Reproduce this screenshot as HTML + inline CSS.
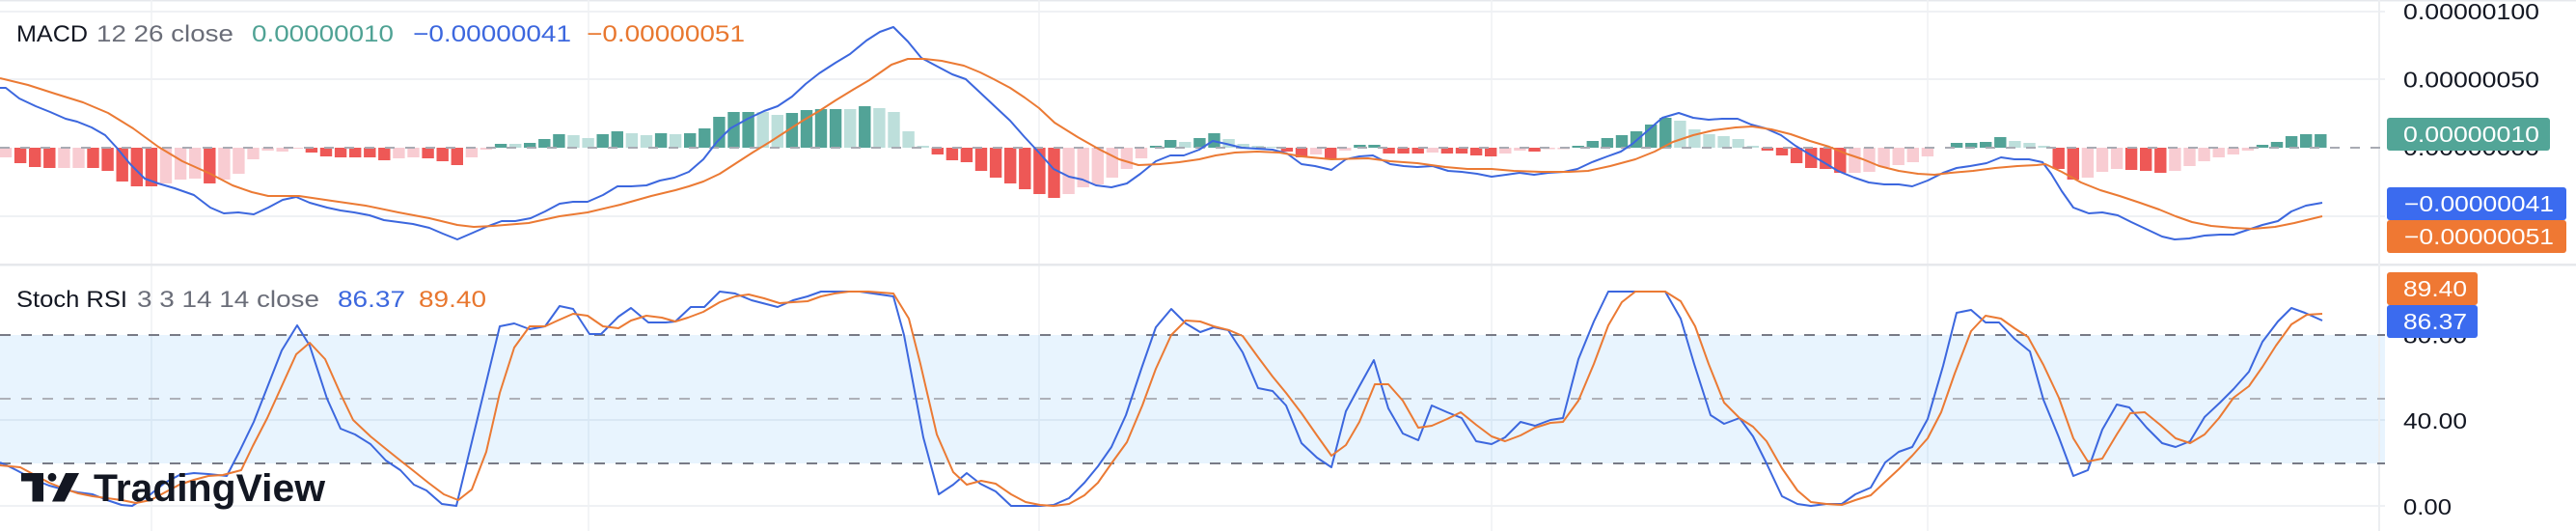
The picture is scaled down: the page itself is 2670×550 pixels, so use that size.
<!DOCTYPE html>
<html><head><meta charset="utf-8"><style>
html,body{margin:0;padding:0;background:#fff;}
svg{display:block;}
text{font-family:"Liberation Sans",Arial,sans-serif;}
</style></head><body>
<svg width="2670" height="550" viewBox="0 0 2670 550" xmlns="http://www.w3.org/2000/svg">
<rect x="0" y="0" width="2670" height="550" fill="#ffffff"/>
<rect x="0" y="0" width="2670" height="1.5" fill="#e6e8ec"/>
<g stroke="#eff1f4" stroke-width="1.5">
<line x1="157" y1="0" x2="157" y2="550"/>
<line x1="610" y1="0" x2="610" y2="550"/>
<line x1="1077" y1="0" x2="1077" y2="550"/>
<line x1="1546" y1="0" x2="1546" y2="550"/>
<line x1="1998" y1="0" x2="1998" y2="550"/>
</g>
<g stroke="#eff1f4" stroke-width="2">
<line x1="0" y1="12" x2="2472" y2="12"/>
<line x1="0" y1="82" x2="2472" y2="82"/>
<line x1="0" y1="224" x2="2472" y2="224"/>
<line x1="0" y1="435" x2="2472" y2="435"/>
<line x1="0" y1="524" x2="2472" y2="524"/>
</g>
<rect x="0" y="347" width="2472" height="133" fill="rgba(33,150,243,0.1)"/>
<rect x="0" y="273" width="2670" height="2.5" fill="#e6e8ec"/>
<rect x="2465" y="0" width="2" height="550" fill="#eceef1"/>

<g>
<rect x="-0.2" y="153" width="12.4" height="10" fill="#f8ccd2"/>
<rect x="14.9" y="153" width="12.4" height="16" fill="#ee5856"/>
<rect x="30.0" y="153" width="12.4" height="20" fill="#ee5856"/>
<rect x="45.1" y="153" width="12.4" height="21" fill="#ee5856"/>
<rect x="60.2" y="153" width="12.4" height="21" fill="#f8ccd2"/>
<rect x="75.3" y="153" width="12.4" height="21" fill="#f8ccd2"/>
<rect x="90.3" y="153" width="12.4" height="21" fill="#ee5856"/>
<rect x="105.4" y="153" width="12.4" height="24" fill="#ee5856"/>
<rect x="120.5" y="153" width="12.4" height="35" fill="#ee5856"/>
<rect x="135.6" y="153" width="12.4" height="40" fill="#ee5856"/>
<rect x="150.7" y="153" width="12.4" height="40" fill="#ee5856"/>
<rect x="165.8" y="153" width="12.4" height="37" fill="#f8ccd2"/>
<rect x="180.9" y="153" width="12.4" height="33" fill="#f8ccd2"/>
<rect x="196.0" y="153" width="12.4" height="32" fill="#f8ccd2"/>
<rect x="211.1" y="153" width="12.4" height="37" fill="#ee5856"/>
<rect x="226.2" y="153" width="12.4" height="33" fill="#f8ccd2"/>
<rect x="241.2" y="153" width="12.4" height="27" fill="#f8ccd2"/>
<rect x="256.3" y="153" width="12.4" height="12" fill="#f8ccd2"/>
<rect x="271.4" y="153" width="12.4" height="3" fill="#f8ccd2"/>
<rect x="286.5" y="153" width="12.4" height="4" fill="#f8ccd2"/>
<rect x="301.6" y="153" width="12.4" height="1" fill="#f8ccd2"/>
<rect x="316.7" y="153" width="12.4" height="5" fill="#ee5856"/>
<rect x="331.8" y="153" width="12.4" height="9" fill="#ee5856"/>
<rect x="346.9" y="153" width="12.4" height="10" fill="#ee5856"/>
<rect x="362.0" y="153" width="12.4" height="10" fill="#ee5856"/>
<rect x="377.1" y="153" width="12.4" height="10" fill="#ee5856"/>
<rect x="392.1" y="153" width="12.4" height="13" fill="#ee5856"/>
<rect x="407.2" y="153" width="12.4" height="11" fill="#f8ccd2"/>
<rect x="422.3" y="153" width="12.4" height="10" fill="#f8ccd2"/>
<rect x="437.4" y="153" width="12.4" height="11" fill="#ee5856"/>
<rect x="452.5" y="153" width="12.4" height="14" fill="#ee5856"/>
<rect x="467.6" y="153" width="12.4" height="18" fill="#ee5856"/>
<rect x="482.7" y="153" width="12.4" height="10" fill="#f8ccd2"/>
<rect x="497.8" y="153" width="12.4" height="2" fill="#f8ccd2"/>
<rect x="512.9" y="149" width="12.4" height="4" fill="#52a397"/>
<rect x="528.0" y="149" width="12.4" height="4" fill="#bddfdb"/>
<rect x="543.0" y="148" width="12.4" height="5" fill="#52a397"/>
<rect x="558.1" y="144" width="12.4" height="9" fill="#52a397"/>
<rect x="573.2" y="139" width="12.4" height="14" fill="#52a397"/>
<rect x="588.3" y="140" width="12.4" height="13" fill="#bddfdb"/>
<rect x="603.4" y="143" width="12.4" height="10" fill="#bddfdb"/>
<rect x="618.5" y="139" width="12.4" height="14" fill="#52a397"/>
<rect x="633.6" y="136" width="12.4" height="17" fill="#52a397"/>
<rect x="648.7" y="138" width="12.4" height="15" fill="#bddfdb"/>
<rect x="663.8" y="140" width="12.4" height="13" fill="#bddfdb"/>
<rect x="678.9" y="138" width="12.4" height="15" fill="#52a397"/>
<rect x="693.9" y="139" width="12.4" height="14" fill="#bddfdb"/>
<rect x="709.0" y="138" width="12.4" height="15" fill="#52a397"/>
<rect x="724.1" y="133" width="12.4" height="20" fill="#52a397"/>
<rect x="739.2" y="121" width="12.4" height="32" fill="#52a397"/>
<rect x="754.3" y="116" width="12.4" height="37" fill="#52a397"/>
<rect x="769.4" y="116" width="12.4" height="37" fill="#52a397"/>
<rect x="784.5" y="116" width="12.4" height="37" fill="#bddfdb"/>
<rect x="799.6" y="119" width="12.4" height="34" fill="#bddfdb"/>
<rect x="814.7" y="117" width="12.4" height="36" fill="#52a397"/>
<rect x="829.8" y="114" width="12.4" height="39" fill="#52a397"/>
<rect x="844.8" y="113" width="12.4" height="40" fill="#52a397"/>
<rect x="859.9" y="113" width="12.4" height="40" fill="#52a397"/>
<rect x="875.0" y="113" width="12.4" height="40" fill="#bddfdb"/>
<rect x="890.1" y="110" width="12.4" height="43" fill="#52a397"/>
<rect x="905.2" y="112" width="12.4" height="41" fill="#bddfdb"/>
<rect x="920.3" y="116" width="12.4" height="37" fill="#bddfdb"/>
<rect x="935.4" y="136" width="12.4" height="17" fill="#bddfdb"/>
<rect x="950.5" y="151" width="12.4" height="2" fill="#bddfdb"/>
<rect x="965.6" y="153" width="12.4" height="7" fill="#ee5856"/>
<rect x="980.7" y="153" width="12.4" height="13" fill="#ee5856"/>
<rect x="995.7" y="153" width="12.4" height="15" fill="#ee5856"/>
<rect x="1010.8" y="153" width="12.4" height="24" fill="#ee5856"/>
<rect x="1025.9" y="153" width="12.4" height="31" fill="#ee5856"/>
<rect x="1041.0" y="153" width="12.4" height="37" fill="#ee5856"/>
<rect x="1056.1" y="153" width="12.4" height="43" fill="#ee5856"/>
<rect x="1071.2" y="153" width="12.4" height="48" fill="#ee5856"/>
<rect x="1086.3" y="153" width="12.4" height="52" fill="#ee5856"/>
<rect x="1101.4" y="153" width="12.4" height="48" fill="#f8ccd2"/>
<rect x="1116.5" y="153" width="12.4" height="41" fill="#f8ccd2"/>
<rect x="1131.6" y="153" width="12.4" height="38" fill="#f8ccd2"/>
<rect x="1146.6" y="153" width="12.4" height="31" fill="#f8ccd2"/>
<rect x="1161.7" y="153" width="12.4" height="22" fill="#f8ccd2"/>
<rect x="1176.8" y="153" width="12.4" height="11" fill="#f8ccd2"/>
<rect x="1191.9" y="151" width="12.4" height="2" fill="#52a397"/>
<rect x="1207.0" y="145" width="12.4" height="8" fill="#52a397"/>
<rect x="1222.1" y="147" width="12.4" height="6" fill="#bddfdb"/>
<rect x="1237.2" y="143" width="12.4" height="10" fill="#52a397"/>
<rect x="1252.3" y="138" width="12.4" height="15" fill="#52a397"/>
<rect x="1267.4" y="144" width="12.4" height="9" fill="#bddfdb"/>
<rect x="1282.5" y="149" width="12.4" height="4" fill="#bddfdb"/>
<rect x="1297.5" y="151" width="12.4" height="2" fill="#bddfdb"/>
<rect x="1312.6" y="152" width="12.4" height="1" fill="#bddfdb"/>
<rect x="1327.7" y="153" width="12.4" height="4" fill="#ee5856"/>
<rect x="1342.8" y="153" width="12.4" height="10" fill="#ee5856"/>
<rect x="1357.9" y="153" width="12.4" height="7" fill="#f8ccd2"/>
<rect x="1373.0" y="153" width="12.4" height="12" fill="#ee5856"/>
<rect x="1388.1" y="153" width="12.4" height="3" fill="#f8ccd2"/>
<rect x="1403.2" y="150" width="12.4" height="3" fill="#52a397"/>
<rect x="1418.3" y="150" width="12.4" height="3" fill="#52a397"/>
<rect x="1433.4" y="153" width="12.4" height="6" fill="#ee5856"/>
<rect x="1448.4" y="153" width="12.4" height="6" fill="#ee5856"/>
<rect x="1463.5" y="153" width="12.4" height="6" fill="#ee5856"/>
<rect x="1478.6" y="153" width="12.4" height="5" fill="#f8ccd2"/>
<rect x="1493.7" y="153" width="12.4" height="6" fill="#ee5856"/>
<rect x="1508.8" y="153" width="12.4" height="6" fill="#ee5856"/>
<rect x="1523.9" y="153" width="12.4" height="8" fill="#ee5856"/>
<rect x="1539.0" y="153" width="12.4" height="9" fill="#ee5856"/>
<rect x="1554.1" y="153" width="12.4" height="6" fill="#f8ccd2"/>
<rect x="1569.2" y="153" width="12.4" height="3" fill="#f8ccd2"/>
<rect x="1584.3" y="153" width="12.4" height="4" fill="#ee5856"/>
<rect x="1599.3" y="153" width="12.4" height="1.5" fill="#f8ccd2"/>
<rect x="1614.4" y="153" width="12.4" height="1.5" fill="#f8ccd2"/>
<rect x="1629.5" y="151" width="12.4" height="2" fill="#52a397"/>
<rect x="1644.6" y="146" width="12.4" height="7" fill="#52a397"/>
<rect x="1659.7" y="143" width="12.4" height="10" fill="#52a397"/>
<rect x="1674.8" y="140" width="12.4" height="13" fill="#52a397"/>
<rect x="1689.9" y="136" width="12.4" height="17" fill="#52a397"/>
<rect x="1705.0" y="129" width="12.4" height="24" fill="#52a397"/>
<rect x="1720.1" y="122" width="12.4" height="31" fill="#52a397"/>
<rect x="1735.2" y="125" width="12.4" height="28" fill="#bddfdb"/>
<rect x="1750.2" y="134" width="12.4" height="19" fill="#bddfdb"/>
<rect x="1765.3" y="139" width="12.4" height="14" fill="#bddfdb"/>
<rect x="1780.4" y="141" width="12.4" height="12" fill="#bddfdb"/>
<rect x="1795.5" y="144" width="12.4" height="9" fill="#bddfdb"/>
<rect x="1810.6" y="151" width="12.4" height="2" fill="#bddfdb"/>
<rect x="1825.7" y="153" width="12.4" height="3" fill="#ee5856"/>
<rect x="1840.8" y="153" width="12.4" height="8" fill="#ee5856"/>
<rect x="1855.9" y="153" width="12.4" height="16" fill="#ee5856"/>
<rect x="1871.0" y="153" width="12.4" height="21" fill="#ee5856"/>
<rect x="1886.1" y="153" width="12.4" height="22" fill="#ee5856"/>
<rect x="1901.1" y="153" width="12.4" height="26" fill="#ee5856"/>
<rect x="1916.2" y="153" width="12.4" height="26" fill="#f8ccd2"/>
<rect x="1931.3" y="153" width="12.4" height="25" fill="#f8ccd2"/>
<rect x="1946.4" y="153" width="12.4" height="20" fill="#f8ccd2"/>
<rect x="1961.5" y="153" width="12.4" height="18" fill="#f8ccd2"/>
<rect x="1976.6" y="153" width="12.4" height="15" fill="#f8ccd2"/>
<rect x="1991.7" y="153" width="12.4" height="9" fill="#f8ccd2"/>
<rect x="2021.9" y="148" width="12.4" height="5" fill="#52a397"/>
<rect x="2037.0" y="148" width="12.4" height="5" fill="#52a397"/>
<rect x="2052.0" y="147" width="12.4" height="6" fill="#52a397"/>
<rect x="2067.1" y="142" width="12.4" height="11" fill="#52a397"/>
<rect x="2082.2" y="146" width="12.4" height="7" fill="#bddfdb"/>
<rect x="2097.3" y="148" width="12.4" height="5" fill="#bddfdb"/>
<rect x="2112.4" y="151" width="12.4" height="2" fill="#bddfdb"/>
<rect x="2127.5" y="153" width="12.4" height="22" fill="#ee5856"/>
<rect x="2142.6" y="153" width="12.4" height="33" fill="#ee5856"/>
<rect x="2157.7" y="153" width="12.4" height="31" fill="#f8ccd2"/>
<rect x="2172.8" y="153" width="12.4" height="25" fill="#f8ccd2"/>
<rect x="2187.9" y="153" width="12.4" height="22" fill="#f8ccd2"/>
<rect x="2202.9" y="153" width="12.4" height="23" fill="#ee5856"/>
<rect x="2218.0" y="153" width="12.4" height="24" fill="#ee5856"/>
<rect x="2233.1" y="153" width="12.4" height="26" fill="#ee5856"/>
<rect x="2248.2" y="153" width="12.4" height="24" fill="#f8ccd2"/>
<rect x="2263.3" y="153" width="12.4" height="19" fill="#f8ccd2"/>
<rect x="2278.4" y="153" width="12.4" height="14" fill="#f8ccd2"/>
<rect x="2293.5" y="153" width="12.4" height="10" fill="#f8ccd2"/>
<rect x="2308.6" y="153" width="12.4" height="7" fill="#f8ccd2"/>
<rect x="2323.7" y="153" width="12.4" height="3" fill="#f8ccd2"/>
<rect x="2338.8" y="150" width="12.4" height="3" fill="#52a397"/>
<rect x="2353.8" y="147" width="12.4" height="6" fill="#52a397"/>
<rect x="2368.9" y="141" width="12.4" height="12" fill="#52a397"/>
<rect x="2384.0" y="139" width="12.4" height="14" fill="#52a397"/>
<rect x="2399.1" y="139" width="12.4" height="14" fill="#52a397"/>
</g>
<line x1="0" y1="153" x2="2472" y2="153" stroke="#a8abb3" stroke-width="2" stroke-dasharray="10 11"/>

<polyline fill="none" stroke="#3c67de" stroke-width="2" stroke-linejoin="round" points="0,91 6,91 20,102 37,110 52,116 68,123 80,126 95,132 109,140 121,153 135,170 150,185 164,190 181,195 201,202 218,215 232,221 247,220 263,222 278,215 293,207 307,204 321,210 339,215 353,218 367,220 383,223 398,228 413,230 428,232 445,236 459,242 474,248 488,242 504,235 520,229 534,229 550,226 565,219 580,211 594,209 609,209 625,202 640,193 654,193 670,192 684,187 699,184 714,178 729,165 743,147 757,133 775,123 792,115 806,110 821,100 835,87 849,76 866,65 881,56 898,42 912,33 926,28 941,43 955,60 970,68 987,77 1001,82 1016,96 1032,111 1047,125 1062,142 1076,157 1092,175 1108,183 1122,186 1136,192 1152,194 1168,190 1182,180 1198,167 1213,161 1227,161 1243,155 1257,146 1271,149 1287,153 1303,154 1319,155 1334,159 1349,170 1363,172 1380,176 1395,165 1409,162 1423,161 1441,170 1455,172 1469,173 1485,172 1501,177 1515,178 1531,180 1546,183 1561,181 1575,179 1590,181 1605,179 1621,178 1635,175 1650,168 1666,162 1680,157 1692,149 1707,136 1723,122 1740,117 1755,122 1771,124 1785,123 1801,123 1815,129 1830,133 1846,140 1861,151 1876,160 1890,168 1905,177 1922,184 1937,189 1953,191 1968,191 1982,193 1998,187 2014,179 2028,174 2042,172 2059,169 2074,163 2088,165 2103,165 2117,168 2126,180 2137,198 2149,215 2165,221 2179,220 2195,223 2209,230 2224,237 2241,245 2254,248 2269,247 2285,244 2301,243 2315,243 2330,238 2345,233 2361,229 2375,219 2390,213 2407,210"/>
<polyline fill="none" stroke="#eb7a34" stroke-width="2" stroke-linejoin="round" points="0,81 29,88 57,97 86,106 112,117 138,133 164,152 189,167 218,180 241,192 261,199 278,203 310,203 344,208 379,213 413,220 445,226 474,233 491,235 511,234 548,231 580,224 609,220 643,212 675,203 700,197 714,193 729,188 746,180 763,169 780,158 798,147 815,136 832,125 849,115 866,104 884,93 901,83 924,67 941,61 958,61 976,63 999,68 1016,75 1030,82 1047,91 1062,101 1077,112 1093,127 1117,142 1140,155 1160,165 1180,171 1202,170 1222,168 1243,165 1260,161 1280,158 1303,157 1326,158 1349,162 1380,165 1418,164 1441,167 1469,169 1498,173 1521,175 1546,175 1569,177 1598,178 1626,178 1646,177 1669,172 1695,165 1715,157 1734,147 1755,140 1776,135 1799,132 1816,131 1836,134 1856,139 1876,146 1896,152 1913,159 1931,165 1948,172 1968,177 1988,180 2005,181 2022,179 2045,177 2068,174 2091,172 2111,171 2120,170 2137,178 2157,189 2177,197 2197,203 2218,210 2238,217 2255,224 2272,230 2292,234 2315,236 2335,237 2358,235 2378,231 2407,224"/>

<line x1="0" y1="347" x2="2472" y2="347" stroke="#787b86" stroke-width="2" stroke-dasharray="11 11"/>
<line x1="0" y1="413" x2="2472" y2="413" stroke="#aeb1b9" stroke-width="2" stroke-dasharray="11 11"/>
<line x1="0" y1="480" x2="2472" y2="480" stroke="#787b86" stroke-width="2" stroke-dasharray="11 11"/>

<polyline fill="none" stroke="#3c67de" stroke-width="2" stroke-linejoin="round" points="0,479 7,482 17,487 36,497 51,503 66,507 81,510 96,512 111,518 126,523 137,524 156,512 171,500 186,492 201,490 216,491 235,493 248,468 263,437 292,363 308,337 321,358 339,413 353,444 368,450 384,460 400,477 415,487 429,502 442,508 458,522 473,524 518,338 533,335 549,341 565,338 580,317 594,320 611,346 623,346 641,328 654,319 672,334 690,334 700,333 716,318 730,318 746,302 762,304 779,311 806,318 822,311 837,307 851,302 891,302 926,307 937,347 957,453 973,512 988,502 1002,490 1016,501 1032,509 1048,524 1078,524 1092,523 1108,516 1124,500 1138,483 1152,463 1167,430 1183,382 1198,339 1214,320 1229,335 1244,344 1258,339 1273,342 1288,365 1304,402 1319,405 1333,420 1349,459 1365,474 1380,484 1395,426 1409,400 1424,373 1439,423 1454,449 1470,456 1484,420 1500,427 1515,433 1530,457 1546,460 1560,453 1576,437 1591,441 1607,435 1620,433 1636,372 1652,333 1667,302 1695,302 1726,302 1742,330 1756,377 1773,430 1787,439 1803,433 1817,452 1831,480 1847,514 1863,522 1877,524 1893,522 1909,522 1923,512 1939,505 1954,479 1968,468 1982,463 1998,434 2014,379 2028,324 2043,321 2058,334 2072,334 2088,351 2104,364 2118,414 2134,453 2149,493 2164,487 2179,445 2194,419 2207,422 2225,443 2241,459 2255,463 2270,457 2285,432 2301,417 2315,403 2331,385 2345,354 2361,333 2375,319 2389,324 2407,332"/>
<polyline fill="none" stroke="#eb7a34" stroke-width="2" stroke-linejoin="round" points="0,482 21,484 36,492 51,500 66,506 81,511 96,514 111,516 126,518 141,521 156,518 171,510 186,502 201,497 216,493 231,492 250,487 262,462 277,433 292,400 307,367 321,355 337,372 353,408 366,435 384,452 400,465 415,477 429,488 444,500 460,512 475,518 489,507 504,468 518,407 533,360 549,338 565,338 578,332 594,325 609,327 625,338 641,340 654,332 670,327 686,329 700,333 713,329 729,323 746,313 762,307 776,305 792,309 808,314 822,313 837,312 851,307 865,304 880,302 900,302 926,304 942,330 954,377 971,450 988,489 1002,502 1017,498 1032,501 1048,512 1063,520 1078,523 1092,524 1108,522 1124,513 1138,500 1152,480 1168,458 1184,420 1198,382 1214,347 1229,332 1244,333 1258,338 1274,342 1288,348 1304,370 1319,390 1333,407 1349,428 1365,451 1380,472 1395,461 1409,437 1425,398 1439,398 1454,415 1470,443 1484,441 1500,434 1514,427 1530,440 1546,452 1560,457 1576,451 1591,443 1607,438 1620,437 1636,415 1652,377 1667,337 1681,313 1695,302 1726,302 1742,312 1757,338 1771,377 1787,417 1803,433 1817,442 1831,457 1847,485 1863,508 1877,520 1893,522 1909,523 1923,518 1939,513 1954,499 1968,486 1982,472 1998,454 2012,427 2026,387 2043,343 2058,327 2074,330 2088,340 2102,349 2118,378 2134,412 2149,454 2164,478 2179,475 2194,450 2208,428 2223,427 2239,440 2255,454 2270,459 2285,450 2300,433 2315,412 2331,400 2345,380 2359,358 2375,336 2391,326 2407,325"/>

<g fill="#131722">
<rect x="22" y="490" width="23" height="8.5"/>
<rect x="33.5" y="490" width="11.5" height="29.5"/>
<circle cx="54" cy="494.3" r="4.4"/>
<polygon points="68,490 82,490 67,519.5 54,519.5"/>
<text x="97" y="519" font-size="40" font-weight="bold" textLength="240" lengthAdjust="spacingAndGlyphs">TradingView</text>
</g>

<g font-size="24">
<text x="17" y="43" fill="#131722" textLength="74" lengthAdjust="spacingAndGlyphs">MACD</text>
<text x="100" y="43" fill="#6a6d78" textLength="142" lengthAdjust="spacingAndGlyphs">12 26 close</text>
<text x="261" y="43" fill="#4fa294" textLength="147" lengthAdjust="spacingAndGlyphs">0.00000010</text>
<text x="428" y="43" fill="#3c67de" textLength="164" lengthAdjust="spacingAndGlyphs">−0.00000041</text>
<text x="608" y="43" fill="#e8772f" textLength="164" lengthAdjust="spacingAndGlyphs">−0.00000051</text>
<text x="17" y="318" fill="#131722" textLength="115" lengthAdjust="spacingAndGlyphs">Stoch RSI</text>
<text x="142" y="318" fill="#6a6d78" textLength="189" lengthAdjust="spacingAndGlyphs">3 3 14 14 close</text>
<text x="350" y="318" fill="#3c67de" textLength="70" lengthAdjust="spacingAndGlyphs">86.37</text>
<text x="434" y="318" fill="#e8772f" textLength="70" lengthAdjust="spacingAndGlyphs">89.40</text>
</g>

<g font-size="23" fill="#131722">
<text x="2491" y="20" textLength="141" lengthAdjust="spacingAndGlyphs">0.00000100</text>
<text x="2491" y="90.5" textLength="141" lengthAdjust="spacingAndGlyphs">0.00000050</text>
<text x="2491" y="161" textLength="141" lengthAdjust="spacingAndGlyphs">0.00000000</text>
<text x="2491" y="355.5" textLength="66" lengthAdjust="spacingAndGlyphs">80.00</text>
<text x="2491" y="444" textLength="66" lengthAdjust="spacingAndGlyphs">40.00</text>
<text x="2491" y="533" textLength="50" lengthAdjust="spacingAndGlyphs">0.00</text>
</g>
<rect x="2474" y="122" width="169" height="34" rx="3" fill="#52a597"/>
<rect x="2474" y="194" width="186" height="34" rx="3" fill="#3b6bef"/>
<rect x="2474" y="228" width="186" height="34" rx="3" fill="#ef7833"/>
<rect x="2474" y="282" width="94" height="34" rx="3" fill="#ef7833"/>
<rect x="2474" y="316" width="94" height="34" rx="3" fill="#3b6bef"/>
<g font-size="23" fill="#ffffff">
<text x="2491" y="147" textLength="141" lengthAdjust="spacingAndGlyphs">0.00000010</text>
<text x="2492" y="219" textLength="155" lengthAdjust="spacingAndGlyphs">−0.00000041</text>
<text x="2492" y="253" textLength="155" lengthAdjust="spacingAndGlyphs">−0.00000051</text>
<text x="2491" y="307" textLength="66" lengthAdjust="spacingAndGlyphs">89.40</text>
<text x="2491" y="341" textLength="66" lengthAdjust="spacingAndGlyphs">86.37</text>
</g>
</svg>
</body></html>
